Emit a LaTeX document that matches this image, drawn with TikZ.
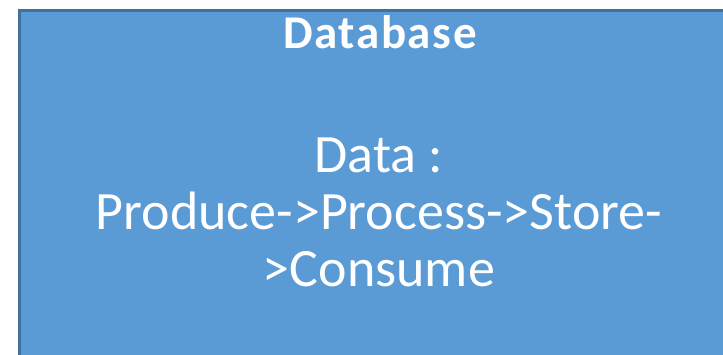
\documentclass[tikz,border=0pt]{standalone}
\usepackage{fontspec}
\setmainfont{Carlito}
\definecolor{boxfill}{HTML}{5B9BD5}
\definecolor{boxline}{HTML}{41719C}
\begin{document}
\begin{tikzpicture}[x=1pt,y=1pt,
  titletext/.style={text=white,font=\fontsize{47}{52}\selectfont\bfseries\addfontfeatures{LetterSpace=3.5},inner sep=0pt},
  bodytext/.style={text=white,font=\fontsize{54}{57}\selectfont,align=center,inner sep=0pt}]
\useasboundingbox (0,0) rectangle (723,354);
\begin{scope}
\clip (0,0) rectangle (723,354);
\draw[fill=boxfill,draw=boxline,line width=2.5pt] (19.5,-20) rectangle (760,343.5);
\end{scope}
\node[titletext,anchor=base] (title) at (380,305) {Database};
\node[bodytext,anchor=base] (body) at (379,67.3) {Data :\\Produce->Process->Store-\\>Consume};
\end{tikzpicture}
\end{document}
